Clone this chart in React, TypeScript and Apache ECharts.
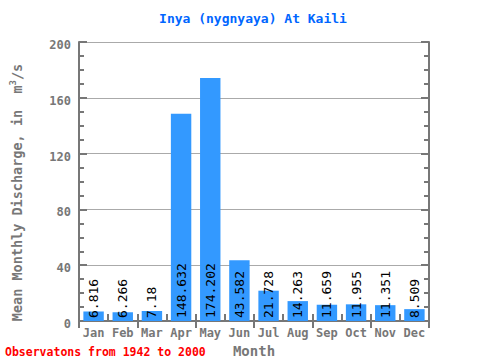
import React, { useEffect, useRef } from "react";
import * as echarts from "echarts";

const months = ["Jan", "Feb", "Mar", "Apr", "May", "Jun", "Jul", "Aug", "Sep", "Oct", "Nov", "Dec"];
const discharge = [6.816, 6.266, 7.18, 148.632, 174.202, 43.582, 21.728, 14.263, 11.659, 11.955, 11.351, 8.509];
const labels = ["6.816", "6.266", "7.18", "148.632", "174.202", "43.582", "21.728", "14.263", "11.659", "11.955", "11.351", "8.509"];

const MONO = "DejaVu Sans Mono";
const AXIS = "#777777";

export default function App() {
  const ref = useRef<HTMLDivElement>(null);
  useEffect(() => {
    if (!ref.current) return;
    const chart = echarts.init(ref.current, null, { renderer: "svg" });
    const yCommon = {
      type: "value" as const,
      min: 0,
      max: 200,
      interval: 40,
      axisLine: { show: true, lineStyle: { color: AXIS, width: 2 } },
      axisTick: { show: true, inside: true, length: 8, lineStyle: { color: AXIS, width: 2 } },
      minorTick: { show: true, splitNumber: 4, length: 5, lineStyle: { color: AXIS, width: 2 } },
    };
    const xCommon = {
      type: "category" as const,
      data: months,
      axisLine: { show: true, lineStyle: { color: AXIS, width: 2 } },
      axisTick: { show: true, inside: true, length: 7, alignWithLabel: false, lineStyle: { color: AXIS, width: 2 } },
    };
    chart.setOption({
      animation: false,
      backgroundColor: "#ffffff",
      title: {
        text: "Inya (nygnyaya) At Kaili",
        left: 248,
        top: 7,
        textAlign: "center",
        textStyle: { fontFamily: MONO, fontSize: 13, fontWeight: "bold", color: "#0066ff" },
      },
      graphic: [
        {
          type: "text",
          left: 5,
          top: 346,
          style: {
            text: "Observatons from 1942 to 2000",
            fill: "#ff0000",
            font: `bold 11.5px "${MONO}"`,
          },
        },
      ],
      grid: { left: 79, right: 51, top: 42, bottom: 39, outerBoundsMode: "none", containLabel: false },
      xAxis: [
        {
          ...xCommon,
          position: "bottom",
          name: "Month",
          nameLocation: "middle",
          nameGap: 18,
          nameTextStyle: { fontFamily: MONO, fontSize: 14, fontWeight: "bold", color: AXIS },
          axisLabel: { fontFamily: MONO, fontSize: 12, fontWeight: "bold", color: AXIS, margin: 6 },
        },
        {
          ...xCommon,
          position: "top",
          axisLabel: { show: false },
        },
      ],
      yAxis: [
        {
          ...yCommon,
          position: "left",
          name: "Mean Monthly Discharge, in  m{sup|3}/s",
          nameLocation: "middle",
          nameGap: 54,
          nameTextStyle: {
            fontFamily: MONO,
            fontSize: 13.5,
            fontWeight: "bold",
            color: AXIS,
            padding: [0, 22, 0, 0],
            rich: {
              sup: { fontFamily: MONO, fontSize: 9, fontWeight: "bold", color: AXIS, verticalAlign: "top", padding: [0, 0, 8, 0] },
            },
          },
          axisLabel: { fontFamily: MONO, fontSize: 12, fontWeight: "bold", color: AXIS, margin: 8, verticalAlign: "top", padding: [-3, 0, 0, 0] },
          splitLine: { show: true, lineStyle: { color: "#aaaaaa", width: 1 } },
        },
        {
          ...yCommon,
          position: "right",
          axisLabel: { show: false },
          splitLine: { show: false },
        },
      ],
      series: [
        {
          type: "bar",
          data: discharge,
          barWidth: "70%",
          itemStyle: { color: "#3399ff" },
          label: {
            show: true,
            position: "insideBottom",
            rotate: 90,
            align: "left",
            verticalAlign: "middle",
            distance: 3,
            fontFamily: MONO,
            fontSize: 13,
            color: "#000000",
            formatter: (p: any) => labels[p.dataIndex],
          },
        },
      ],
    });
    return () => chart.dispose();
  }, []);
  return <div ref={ref} style={{ width: 480, height: 360, position: "absolute", left: 0, top: 0 }} />;
}
